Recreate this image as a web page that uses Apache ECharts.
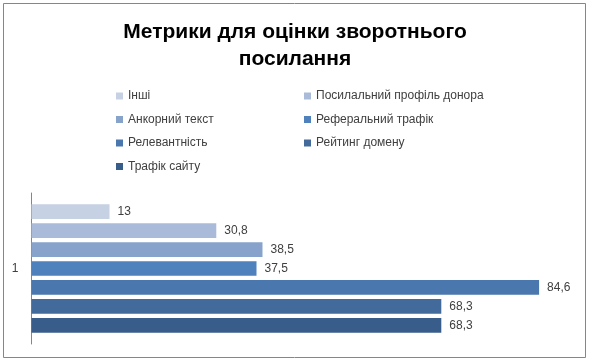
<!DOCTYPE html>
<html><head><meta charset="utf-8">
<script src="https://cdn.jsdelivr.net/npm/echarts@6/dist/echarts.min.js"></script>
<style>html,body{margin:0;padding:0;background:#fff}#c{width:590px;height:363px}</style>
</head><body><div id="c"></div>
<script>
const titleText = 'Метрики для оцінки зворотнього\nпосилання';
const categories = ['1'];
const seriesNames = ['Інші','Посилальний профіль донора','Анкорний текст','Реферальний трафік','Релевантність','Рейтинг домену','Трафік сайту'];
const seriesValues = [13, 30.8, 38.5, 37.5, 84.6, 68.3, 68.3];
const seriesColors = ['#c6d1e3','#aabbd9','#87a3cc','#4f81bd','#4a77ad','#426a9b','#385d8a'];
const xMax = 90;

const chart = echarts.init(document.getElementById('c'), null, {renderer:'canvas'});
const fmt = v => String(v).replace('.', ',');
const series = seriesNames.map((n,i)=>({
  name:n, type:'bar', data:[seriesValues[i]],
  barWidth:14.7, barGap:'29%',
  itemStyle:{color:seriesColors[i]},
  label:{show:true, position:'right', distance:8, color:'#404040', fontSize:12, fontFamily:'Liberation Sans',
    formatter:p=>fmt(p.value)}
}));
const leftNames = seriesNames.filter((_,i)=>i%2===0);
const rightNames = seriesNames.filter((_,i)=>i%2===1);
const legendCommon = {orient:'vertical', itemWidth:7, itemHeight:7, itemGap:11.5, icon:'rect',
  textStyle:{color:'#404040', fontSize:12, fontFamily:'Liberation Sans'}, selectedMode:false, top:85};
chart.setOption({
  animation:false,
  title:{text:titleText, left:'center', top:14, textStyle:{fontSize:21, fontWeight:'bold', color:'#000', fontFamily:'Liberation Sans', lineHeight:26.5}},
  legend:[Object.assign({data:leftNames, left:111}, legendCommon), Object.assign({data:rightNames, left:299}, legendCommon)],
  grid:{left:31.5, right:18.5, top:193, bottom:19},
  xAxis:{type:'value', min:0, max:xMax, show:false},
  yAxis:{type:'category', data:categories, inverse:true,
    axisLine:{lineStyle:{color:'#868686'}}, axisTick:{show:false},
    axisLabel:{color:'#404040', fontSize:12, fontFamily:'Liberation Sans', margin:13}},
  graphic:[{type:'rect', shape:{x:3.5, y:3.5, width:582, height:354}, style:{fill:null, stroke:'#868686', lineWidth:1}, silent:true}],
  series
});
</script></body></html>
